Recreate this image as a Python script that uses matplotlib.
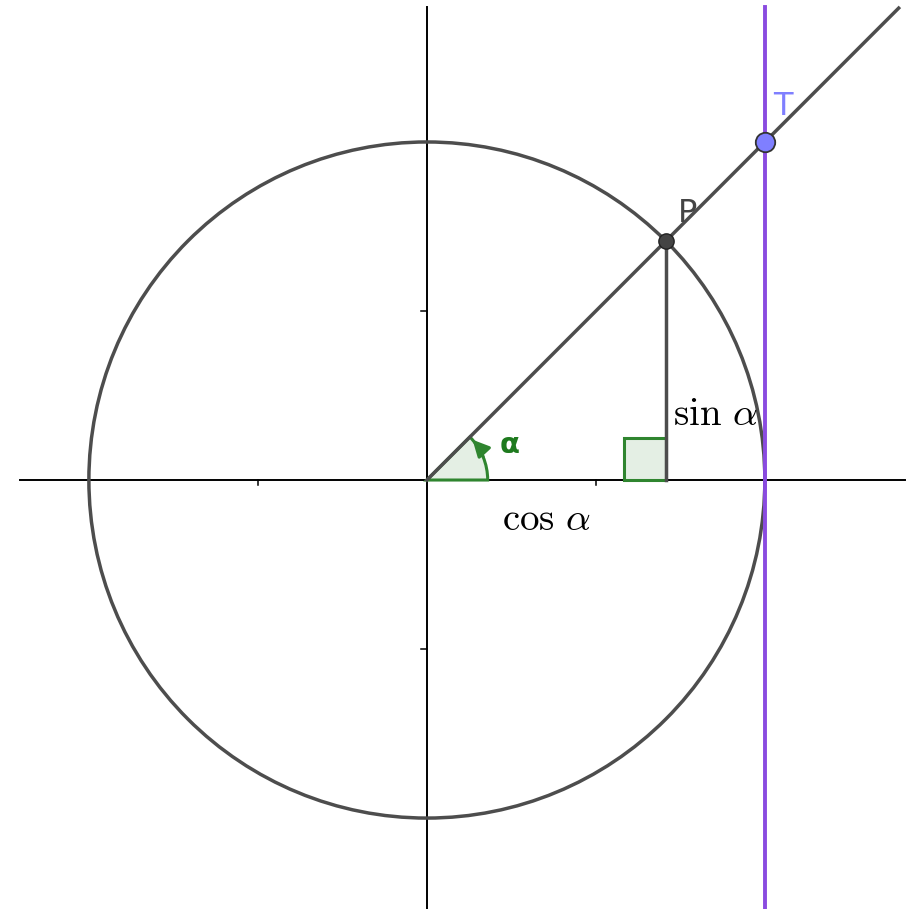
#!/usr/bin/env python3
"""Unit circle with sin / cos / tan construction (GeoGebra style)."""

import numpy as np
import matplotlib

matplotlib.use("Agg")
import matplotlib.pyplot as plt
from matplotlib.patches import Circle, Wedge, Rectangle

plt.rcParams["mathtext.fontset"] = "cm"

# geometry / data
ALPHA_DEG = 45.0
RADIUS = 1.0
X_TICKS = [-1.0, -0.5, 0.5, 1.0]
Y_TICKS = [-1.0, -0.5, 0.5, 1.0]
X_RANGE = [-1.263, 1.468]
Y_RANGE = [-1.269, 1.420]
X_AXIS_SPAN = [-1.204, 1.414]
Y_AXIS_SPAN = [-1.27, 1.399]
RAY_END = 1.396
ANGLE_R = 0.18
SQUARE = 0.124

GRAY = "#4d4d4d"
GREEN = "#2f852f"
GREEN_FILL = "#e4efe4"
PURPLE = "#8a4be0"
BLUE = "#7f7fff"

a = np.radians(ALPHA_DEG)
px, py = RADIUS * np.cos(a), RADIUS * np.sin(a)
tx, ty = RADIUS, RADIUS * np.tan(a)

fig = plt.figure(figsize=(9.23, 9.09), dpi=100)
ax = fig.add_axes([0, 0, 1, 1])
ax.set_xlim(*X_RANGE)
ax.set_ylim(*Y_RANGE)
ax.axis("off")

# axes
ax.plot(X_AXIS_SPAN, [0, 0], color="black", lw=1.4, zorder=2)
ax.plot([0, 0], Y_AXIS_SPAN, color="black", lw=1.4, zorder=2)
for xt in X_TICKS:
    if abs(xt) < 1:
        ax.plot([xt, xt], [0, -0.016], color="black", lw=1.1, zorder=2)
for yt in Y_TICKS:
    if abs(yt) < 1:
        ax.plot([0, -0.016], [yt, yt], color="black", lw=1.1, zorder=2)

# unit circle
ax.add_patch(Circle((0, 0), RADIUS, fill=False, edgecolor=GRAY, lw=2.5, zorder=3))

# tangent line x = 1
ax.plot([tx, tx], [Y_RANGE[0], Y_AXIS_SPAN[1]], color=PURPLE, lw=2.8, zorder=3)

# angle wedge + arrow
ax.add_patch(Wedge((0, 0), ANGLE_R, 0, ALPHA_DEG, facecolor=GREEN_FILL,
                   edgecolor=GREEN, lw=2.2, zorder=4))
a0, a1 = np.radians(20), np.radians(44)
ax.annotate("", xy=(ANGLE_R * np.cos(a1), ANGLE_R * np.sin(a1)),
            xytext=(ANGLE_R * np.cos(a0), ANGLE_R * np.sin(a0)),
            arrowprops=dict(arrowstyle="-|>,head_length=1.0,head_width=0.5",
                            color=GREEN, lw=2.2,
                            connectionstyle="arc3,rad=0.12"),
            zorder=5)
ax.text(0.246, 0.104, r"α", color="#1e7a1e", fontsize=21, fontweight="bold",
        ha="center", va="center", zorder=6)

# right-angle square
ax.add_patch(Rectangle((px - SQUARE, 0), SQUARE, SQUARE, facecolor=GREEN_FILL,
                       edgecolor=GREEN, lw=2.2, zorder=4))

# ray through P and T, vertical drop from P
ax.plot([0, RAY_END], [0, RAY_END * np.tan(a)], color=GRAY, lw=2.5, zorder=5)
ax.plot([px, px], [0, py], color=GRAY, lw=2.5, zorder=5)

# points
ax.plot(px, py, "o", ms=11, color="#444444", mec="#222222", mew=1.0, zorder=7)
ax.plot(tx, ty, "o", ms=14, color=BLUE, mec="#333333", mew=1.3, zorder=7)
ax.text(0.772, 0.788, "P", color="#444444", fontsize=23, ha="center", va="center",
        zorder=8)
ax.text(1.052, 1.104, "T", color=BLUE, fontsize=23, ha="center", va="center",
        zorder=8)

# labels
ax.text(0.355, -0.115, r"$\cos\,\alpha$", fontsize=28, ha="center", va="center",
        zorder=8)
ax.text(0.852, 0.195, r"$\sin\,\alpha$", fontsize=28, ha="center", va="center",
        zorder=8)

fig.savefig("out.png", dpi=100)
